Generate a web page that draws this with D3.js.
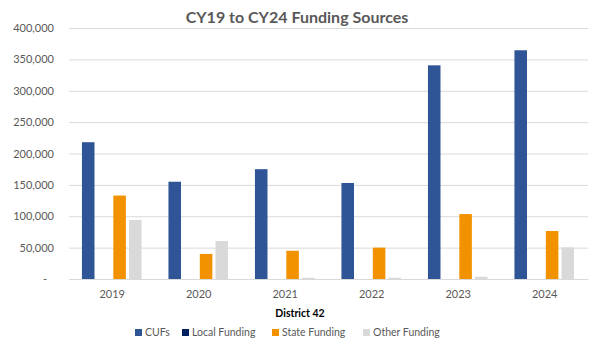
<!DOCTYPE html>
<html><head><meta charset="utf-8">
<script src="https://cdn.jsdelivr.net/npm/d3@7"></script>
<style>body{margin:0;background:#fff}svg{display:block;font-family:Lato,"Open Sans",sans-serif}</style>
</head><body><svg id="c" width="600" height="349"></svg>
<script>
const years = ["2019","2020","2021","2022","2023","2024"];
const seriesNames = ["CUFs","Local Funding","State Funding","Other Funding"];
const cufs = [218000,155000,175000,153000,340500,364500];
const localFunding = [0,0,0,0,0,0];
const stateFunding = [133000,40000,45000,50000,103500,76500];
const otherFunding = [94000,60500,2000,2000,3500,50500];
const yTicks = [0,50000,100000,150000,200000,250000,300000,350000,400000];
const colors = ["#2F5597","#002060","#F39200","#D9D9D9"];
const seriesValues = [cufs, localFunding, stateFunding, otherFunding];

const svg = d3.select("#c");
const m = {l:69, r:588, t:28, b:279};
const groupW = 59.6;
const x = d3.scaleBand().domain(years).range([m.l, m.r]);
const xs = d3.scaleBand().domain(seriesNames).range([0, groupW]).paddingInner(0.2);
const y = d3.scaleLinear().domain([0,400000]).range([m.b, m.t]);

svg.append("text").attr("x",297).attr("y",23).attr("text-anchor","middle")
  .attr("font-size",16).attr("font-weight","bold").attr("fill","#595959")
  .text("CY19 to CY24 Funding Sources");

const fmt = d => d===0 ? "-" : d3.format(",")(d);
const ya = svg.append("g").attr("transform",`translate(${m.l},0)`)
  .call(d3.axisLeft(y).tickValues(yTicks).tickFormat(fmt).tickSize(-(m.r-m.l)).tickPadding(15));
ya.select(".domain").remove();
ya.selectAll("line").attr("stroke","#D9D9D9");
ya.selectAll("text").attr("fill","#595959").attr("font-size",11).attr("font-family","Lato, sans-serif");
ya.selectAll(".tick").filter(d=>d===0).select("text").attr("dx",-7);

const xa = svg.append("g").attr("transform",`translate(0,${m.b})`)
  .call(d3.axisBottom(x).tickSize(0).tickPadding(11));
xa.select(".domain").attr("stroke","#D9D9D9");
xa.selectAll("text").attr("fill","#595959").attr("font-size",11).attr("font-family","Lato, sans-serif");

const groupOffset = (x.bandwidth()-groupW)/2 - 0.5;
seriesNames.forEach((s,si)=>{
  svg.append("g").selectAll("rect").data(years.map((yr,i)=>({yr,v:seriesValues[si][i]})))
    .join("rect")
    .attr("x",d=>x(d.yr)+groupOffset+xs(s))
    .attr("width",xs.bandwidth())
    .attr("y",d=>y(d.v))
    .attr("height",d=>y(0)-y(d.v))
    .attr("fill",colors[si]);
});

svg.append("text").attr("x",300).attr("y",317).attr("text-anchor","middle")
  .attr("font-size",10.5).attr("font-weight","bold").attr("fill","#000")
  .text("District 42");

const legX = [135,182,272,363];
const lg = svg.append("g");
seriesNames.forEach((s,i)=>{
  lg.append("rect").attr("x",legX[i]).attr("y",329).attr("width",7).attr("height",7).attr("fill",colors[i]);
  lg.append("text").attr("x",legX[i]+10).attr("y",336).attr("font-size",10.5).attr("fill","#595959").text(s);
});
</script></body></html>
